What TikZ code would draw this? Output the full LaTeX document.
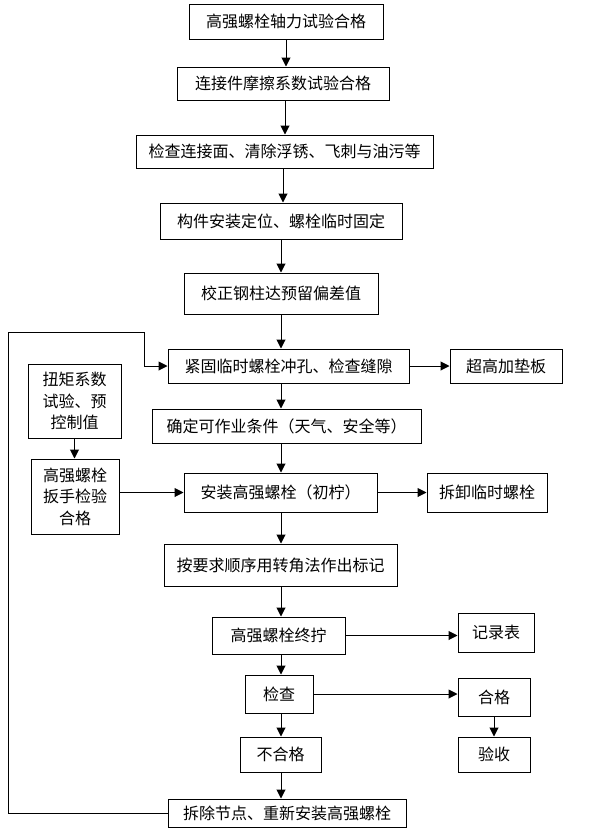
\documentclass[tikz,border=0pt]{standalone}
\usepackage{fontspec}
\setmainfont{Noto Sans CJK SC}
\usetikzlibrary{arrows.meta}
\begin{document}
\begin{tikzpicture}[x=1pt,y=-1pt,
  box/.style={draw,line width=1pt,inner sep=0pt,align=center,font=\fontsize{16}{21.5}\selectfont},
  arr/.style={line width=1pt,-{Triangle[length=9pt,width=9pt]}},
  ln/.style={line width=1pt}]
\useasboundingbox (0,0) rectangle (591,833);
\node[box,minimum width=194,minimum height=35] (b1) at (286,21.5) {高强螺栓轴力试验合格};
\node[box,minimum width=212,minimum height=33] (b2) at (283,83.5) {连接件摩擦系数试验合格};
\node[box,minimum width=297,minimum height=33] (b3) at (284.5,151.5) {检查连接面、清除浮锈、飞刺与油污等};
\node[box,minimum width=242,minimum height=36] (b4) at (281,221) {构件安装定位、螺栓临时固定};
\node[box,minimum width=194,minimum height=41] (b5) at (281,293.5) {校正钢柱达预留偏差值};
\node[box,minimum width=241,minimum height=34] (b6) at (288.5,366) {紧固临时螺栓冲孔、检查缝隙};
\node[box,minimum width=112,minimum height=34] (s6) at (506,366) {超高加垫板};
\node[box,minimum width=269,minimum height=34] (b7) at (286.5,426) {确定可作业条件（天气、安全等）};
\node[box,minimum width=93,minimum height=74] (l1) at (74.5,401) {扭矩系数\\试验、预\\控制值};
\node[box,minimum width=88,minimum height=75] (l2) at (75,496.5) {高强螺栓\\扳手检验\\合格};
\node[box,minimum width=193,minimum height=39] (b8) at (280.5,492.5) {安装高强螺栓（初柠）};
\node[box,minimum width=120,minimum height=39] (s8) at (487,492.5) {拆卸临时螺栓};
\node[box,minimum width=233,minimum height=42] (b9) at (280.5,565) {按要求顺序用转角法作出标记};
\node[box,minimum width=133,minimum height=37] (b10) at (278.5,635.5) {高强螺栓终拧};
\node[box,minimum width=76,minimum height=39] (rec) at (496,632.5) {记录表};
\node[box,minimum width=68,minimum height=38] (b11) at (279,694) {检查};
\node[box,minimum width=72,minimum height=38] (ok) at (494,697) {合格};
\node[box,minimum width=81,minimum height=35] (bad) at (280.5,754.5) {不合格};
\node[box,minimum width=72,minimum height=35] (acc) at (494,754.5) {验收};
\node[box,minimum width=238,minimum height=28] (last) at (287,813) {拆除节点、重新安装高强螺栓};
\coordinate (sp) at (281,0);
\coordinate (sp2) at (285,0);
\coordinate (sp3) at (283,0);
\coordinate (f1) at (8,813);
\coordinate (f2) at (8,332);
\coordinate (f3) at (144,332);
\coordinate (f4) at (144,366);
\draw[arr] (b1.south) -- (b1.south |- b2.north);
\draw[arr] (b2.south -| sp2) -- (b3.north -| sp2);
\draw[arr] (b3.south -| sp3) -- (b4.north -| sp3);
\draw[arr] (b4.south -| sp) -- (b5.north -| sp);
\draw[arr] (b5.south -| sp) -- (b6.north -| sp);
\draw[arr] (b6.south -| sp) -- (b7.north -| sp);
\draw[arr] (b7.south -| sp) -- (b8.north -| sp);
\draw[arr] (b8.south -| sp) -- (b9.north -| sp);
\draw[arr] (b9.south -| sp) -- (b10.north -| sp);
\draw[arr] (b10.south -| sp) -- (b11.north -| sp);
\draw[arr] (b11.south -| sp) -- (bad.north -| sp);
\draw[arr] (bad.south -| sp) -- (last.north -| sp);
\draw[arr] (b6.east) -- (b6.east -| s6.west);
\draw[arr] (l1.south) -- (l1.south |- l2.north);
\draw[arr] (l2.east |- b8.west) -- (b8.west);
\draw[arr] (b8.east) -- (s8.west);
\draw[arr] (b10.east) -- (b10.east -| rec.west);
\draw[arr] (b11.east) -- (b11.east -| ok.west);
\draw[arr] (ok.south) -- (ok.south |- acc.north);
\draw[arr] (last.west) -- (f1) -- (f2) -- (f3) -- (f4) -- (b6.west);
\end{tikzpicture}
\end{document}
